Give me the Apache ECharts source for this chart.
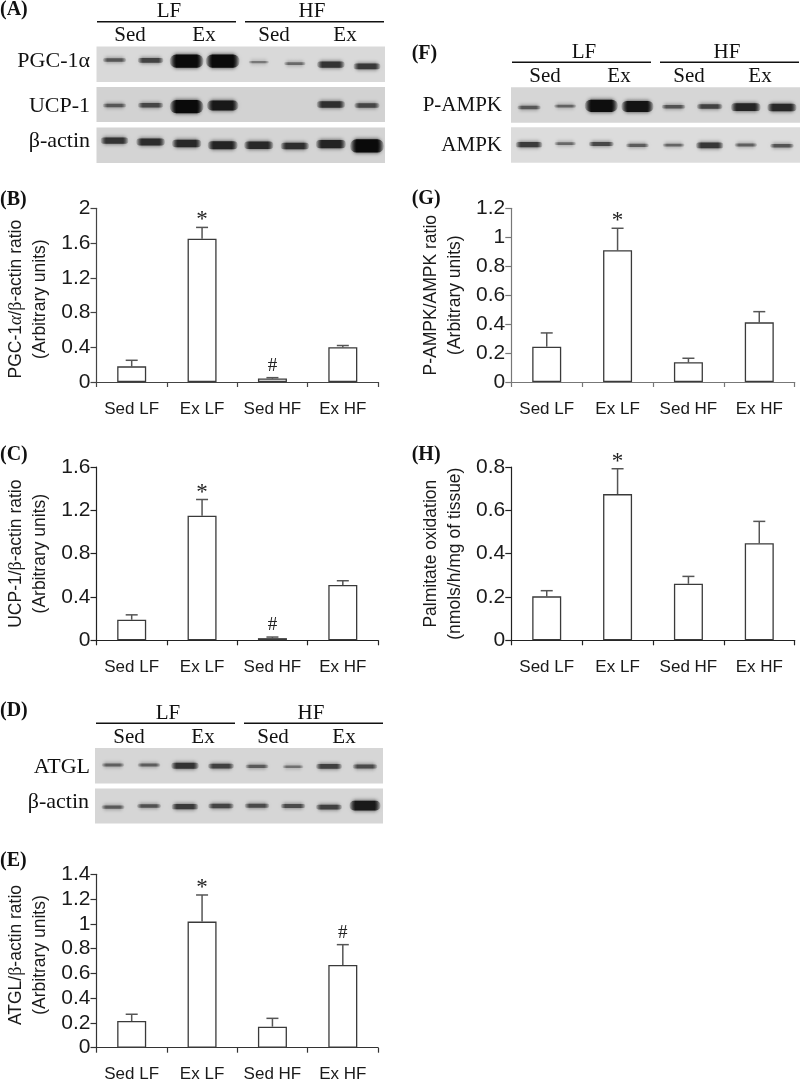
<!DOCTYPE html>
<html>
<head>
<meta charset="utf-8">
<title>Western blots and ratios</title>
<script src="https://cdn.jsdelivr.net/npm/echarts@6/dist/echarts.min.js"></script>
<style>
  html, body { margin: 0; padding: 0; background: #fff; }
  #chart { width: 800px; height: 1082px; }
</style>
</head>
<body>
<div id="chart"></div>
<script>
const categories = ['Sed LF', 'Ex LF', 'Sed HF', 'Ex HF']
const lanes = ['1', '2', '3', '4', '5', '6', '7', '8']

// bar values, upper end of the error bars, marks above them
const pgcValues = [0.18, 1.65, 0.04, 0.40]
const pgcUpper = [0.25, 1.78, 0.05, 0.42]
const pgcMarks = ['', '*', '#', '']
const ucpValues = [0.19, 1.15, 0.02, 0.51]
const ucpUpper = [0.235, 1.30, 0.03, 0.55]
const ucpMarks = ['', '*', '#', '']
const atglValues = [0.215, 1.018, 0.17, 0.668]
const atglUpper = [0.27, 1.233, 0.237, 0.832]
const atglMarks = ['', '*', '', '#']
const ampkValues = [0.244, 0.91, 0.136, 0.412]
const ampkUpper = [0.339, 1.062, 0.164, 0.486]
const ampkMarks = ['', '*', '', '']
const palmValues = [0.203, 0.675, 0.261, 0.448]
const palmUpper = [0.229, 0.792, 0.295, 0.549]
const palmMarks = ['', '*', '', '']

// blots: band signal per lane and where the band runs in the strip (0 top, 1 bottom)
const pgcBlotSignal = [0.36, 0.5, 1, 1, 0.16, 0.24, 0.62, 0.58]
const pgcBlotRow = [0.38, 0.39, 0.41, 0.41, 0.44, 0.48, 0.51, 0.56]
const ucpBlotSignal = [0.36, 0.48, 1, 0.86, 0, 0, 0.66, 0.48]
const ucpBlotRow = [0.53, 0.52, 0.56, 0.53, 0.5, 0.5, 0.5, 0.53]
const actinBlotSignal = [0.62, 0.68, 0.72, 0.76, 0.72, 0.66, 0.76, 1]
const actinBlotRow = [0.37, 0.41, 0.45, 0.5, 0.5, 0.52, 0.47, 0.52]
const atglBlotSignal = [0.3, 0.32, 0.62, 0.52, 0.34, 0.2, 0.52, 0.44]
const atglBlotRow = [0.48, 0.48, 0.5, 0.51, 0.52, 0.53, 0.52, 0.52]
const actin2BlotSignal = [0.34, 0.4, 0.56, 0.5, 0.44, 0.44, 0.52, 0.84]
const actin2BlotRow = [0.53, 0.5, 0.52, 0.5, 0.49, 0.5, 0.53, 0.49]
const pampkBlotSignal = [0.36, 0.28, 0.96, 0.9, 0.38, 0.5, 0.74, 0.72]
const pampkBlotRow = [0.57, 0.53, 0.52, 0.54, 0.55, 0.54, 0.56, 0.57]
const ampkBlotSignal = [0.56, 0.24, 0.46, 0.32, 0.26, 0.6, 0.3, 0.38]
const ampkBlotRow = [0.49, 0.46, 0.47, 0.51, 0.5, 0.51, 0.5, 0.52]

const SANS = '"Liberation Sans", Arial, sans-serif'
const SERIF = '"Liberation Serif", "Times New Roman", serif'

const grid = []
const xAxis = []
const yAxis = []
const series = []
const graphic = []

function panelLabel(text, x, y) {
  graphic.push({
    type: 'text', x, y,
    style: { text, font: `bold 20px ${SERIF}`, fill: '#111', textAlign: 'left', textVerticalAlign: 'middle' },
  })
}

function serifText(text, x, y, align, size) {
  graphic.push({
    type: 'text', x, y,
    style: { text, font: `${size || 21}px ${SERIF}`, fill: '#111', textAlign: align || 'center', textVerticalAlign: 'middle' },
  })
}

function blotHeader(x0, lineY) {
  const spans = [[0, 139], [148, 287]]
  spans.forEach((s) => {
    graphic.push({
      type: 'line',
      shape: { x1: x0 + s[0], y1: lineY, x2: x0 + s[1], y2: lineY },
      style: { stroke: '#111', lineWidth: 1.4 },
    })
  })
  serifText('LF', x0 + 72, lineY - 10)
  serifText('HF', x0 + 215, lineY - 10)
  serifText('Sed', x0 + 33, lineY + 14)
  serifText('Ex', x0 + 107, lineY + 14)
  serifText('Sed', x0 + 177, lineY + 14)
  serifText('Ex', x0 + 248, lineY + 14)
}

// band shape and darkness both follow the signal, edges fade out like film
function renderBand(params, api) {
  const s = api.value(2)
  if (s <= 0) return null
  const p = api.coord([api.value(0), api.value(1)])
  const w = 18 + 16 * s
  const h = 2.2 + 11 * Math.pow(s, 2.2)
  const g = Math.round(175 - 165 * Math.pow(s, 0.6))
  const solid = `rgba(${g},${g},${g},1)`
  const fade = `rgba(${g},${g},${g},0.1)`
  return {
    type: 'rect',
    shape: { x: p[0] - w / 2, y: p[1] - h / 2, width: w, height: h, r: h / 2 },
    style: {
      fill: new echarts.graphic.LinearGradient(0, 0, 1, 0, [
        { offset: 0, color: fade },
        { offset: 0.2, color: solid },
        { offset: 0.8, color: solid },
        { offset: 1, color: fade },
      ]),
      shadowBlur: 4,
      shadowColor: `rgba(${g},${g},${g},0.8)`,
    },
  }
}

function addBlot(box, signal, row, bg) {
  const i = grid.length
  grid.push({
    left: box[0], top: box[1], width: box[2], height: box[3],
    outerBoundsMode: 'none',
    show: true, backgroundColor: bg, borderWidth: 0,
  })
  xAxis.push({ gridIndex: i, type: 'category', data: lanes, show: false })
  yAxis.push({ gridIndex: i, type: 'value', min: 0, max: 1, inverse: true, show: false })
  series.push({
    type: 'custom',
    xAxisIndex: i,
    yAxisIndex: i,
    clip: true,
    data: signal.map((s, k) => [k, row[k], s]),
    encode: { x: 0, y: 1 },
    renderItem: renderBand,
  })
}

function renderError(marks, color) {
  return (params, api) => {
    const i = api.value(0)
    const low = api.coord([i, api.value(1)])
    const high = api.coord([i, api.value(2)])
    const stroke = { stroke: color, lineWidth: 1.5 }
    const children = [
      { type: 'line', shape: { x1: low[0], y1: low[1], x2: high[0], y2: high[1] }, style: stroke },
      { type: 'line', shape: { x1: high[0] - 6, y1: high[1], x2: high[0] + 6, y2: high[1] }, style: stroke },
    ]
    const mark = marks[i]
    if (mark) {
      children.push({
        type: 'text',
        x: high[0],
        y: high[1] - (mark === '*' ? 7 : 12),
        style: {
          text: mark,
          font: mark === '*' ? `23px ${SERIF}` : `19px ${SERIF}`,
          fill: '#222',
          textAlign: 'center',
          textVerticalAlign: 'middle',
        },
      })
    }
    return { type: 'group', children }
  }
}

function addBars(opt) {
  const i = grid.length
  // outerBoundsMode off: the bottom chart's labels must not squeeze the grid
  grid.push({ left: opt.left, top: opt.top, width: opt.width, height: opt.height, outerBoundsMode: 'none' })
  const line = { lineStyle: { color: opt.axisColor, width: 1.2 } }
  xAxis.push({
    gridIndex: i,
    type: 'category',
    data: categories,
    axisLine: { show: true, ...line },
    axisTick: { show: true, length: 5, alignWithLabel: false, ...line },
    axisLabel: { color: '#1a1a1a', fontFamily: SANS, fontSize: 17, margin: 18.5, interval: 0 },
  })
  yAxis.push({
    gridIndex: i,
    type: 'value',
    min: 0,
    max: opt.max,
    interval: opt.step,
    axisLine: { show: true, ...line },
    axisTick: { show: true, length: 6, ...line },
    axisLabel: { color: '#1a1a1a', fontFamily: SANS, fontSize: 21, margin: 6 },
    splitLine: { show: false },
    name: opt.name,
    nameLocation: 'middle',
    nameRotate: 90,
    nameGap: opt.nameGap,
    nameTextStyle: {
      padding: opt.namePad || 0,
      rich: {
        a: { fontFamily: SANS, fontSize: 17.5, color: '#1a1a1a', lineHeight: 24 },
        g: { fontFamily: SERIF, fontStyle: 'italic', fontSize: 18, color: '#1a1a1a', lineHeight: 24 },
        b: { fontFamily: SERIF, fontSize: 18, color: '#1a1a1a', lineHeight: 24 },
      },
    },
  })
  series.push({
    type: 'bar',
    xAxisIndex: i,
    yAxisIndex: i,
    barWidth: 29,
    data: opt.values,
    itemStyle: { color: '#fff', borderColor: '#3a3a3a', borderWidth: 1.3 },
    z: 3,
  })
  series.push({
    type: 'custom',
    xAxisIndex: i,
    yAxisIndex: i,
    clip: false,
    data: opt.values.map((v, k) => [k, v, opt.upper[k]]),
    encode: { x: 0, y: [1, 2] },
    renderItem: renderError(opt.marks, opt.errorColor),
    z: 2,
  })
}

// panel A
blotHeader(97, 21.7)
addBlot([96.5, 46.5, 288.5, 35.5], pgcBlotSignal, pgcBlotRow, '#d9d9d9')
addBlot([96.5, 87, 288.5, 35], ucpBlotSignal, ucpBlotRow, '#d2d2d2')
addBlot([96.5, 127.5, 288.5, 35.5], actinBlotSignal, actinBlotRow, '#d4d4d4')
serifText('PGC-1\u03b1', 90, 61, 'right', 22)
serifText('UCP-1', 90, 106, 'right', 22)
serifText('\u03b2-actin', 90, 141, 'right', 22)

// panel D
blotHeader(96, 723.3)
addBlot([95, 748, 288, 35.5], atglBlotSignal, atglBlotRow, '#d6d6d6')
addBlot([95, 788.5, 288, 35], actin2BlotSignal, actin2BlotRow, '#d6d6d6')
serifText('ATGL', 90, 767, 'right', 22)
serifText('\u03b2-actin', 89, 802, 'right', 22)

// panel F
blotHeader(512, 62.3)
addBlot([511, 87.3, 289, 35.5], pampkBlotSignal, pampkBlotRow, '#d6d6d6')
addBlot([511, 127.3, 289, 35.5], ampkBlotSignal, ampkBlotRow, '#dcdcdc')
serifText('P-AMPK', 502, 105.7, 'right', 21)
serifText('AMPK', 502, 145, 'right', 21)

const leftCol = { left: 96.5, width: 281.5 }
const rightCol = { left: 511.3, width: 283.4 }

addBars({
  ...leftCol, top: 208.3, height: 173.7, max: 2, step: 0.4,
  values: pgcValues, upper: pgcUpper, marks: pgcMarks,
  axisColor: '#444', errorColor: '#555', nameGap: 44, namePad: [0, 8, 0, 0],
  name: '{a|PGC-1}{g|\u03b1}{a|/}{b|\u03b2}{a|-actin ratio}\n{a|(Arbitrary units)}',
})
addBars({
  ...leftCol, top: 467, height: 173.3, max: 1.6, step: 0.4,
  values: ucpValues, upper: ucpUpper, marks: ucpMarks,
  axisColor: '#222', errorColor: '#555', nameGap: 44,
  name: '{a|UCP-1/}{b|\u03b2}{a|-actin ratio}\n{a|(Arbitrary units)}',
})
addBars({
  ...leftCol, top: 874.3, height: 173.4, max: 1.4, step: 0.2,
  values: atglValues, upper: atglUpper, marks: atglMarks,
  axisColor: '#333', errorColor: '#555', nameGap: 44, namePad: [0, 0, 0, 12],
  name: '{a|ATGL/}{b|\u03b2}{a|-actin ratio}\n{a|(Arbitrary units)}',
})
addBars({
  ...rightCol, top: 208.3, height: 173.7, max: 1.2, step: 0.2,
  values: ampkValues, upper: ampkUpper, marks: ampkMarks,
  axisColor: '#777', errorColor: '#555', nameGap: 44,
  name: '{a|P-AMPK/AMPK ratio}\n{a|(Arbitrary units)}',
})
addBars({
  ...rightCol, top: 467, height: 173.3, max: 0.8, step: 0.2,
  values: palmValues, upper: palmUpper, marks: palmMarks,
  axisColor: '#222', errorColor: '#555', nameGap: 44,
  name: '{a|Palmitate oxidation}\n{a|(nmols/h/mg of tissue)}',
})

panelLabel('(A)', 0, 10)
panelLabel('(B)', 0, 200)
panelLabel('(C)', 0, 455)
panelLabel('(D)', 0, 711)
panelLabel('(E)', 0, 861)
panelLabel('(F)', 411.7, 54)
panelLabel('(G)', 411.7, 199)
panelLabel('(H)', 411.7, 455)

const chart = echarts.init(document.getElementById('chart'))
chart.setOption({
  animation: false,
  backgroundColor: '#fff',
  grid,
  xAxis,
  yAxis,
  series,
  graphic,
})
</script>
</body>
</html>
